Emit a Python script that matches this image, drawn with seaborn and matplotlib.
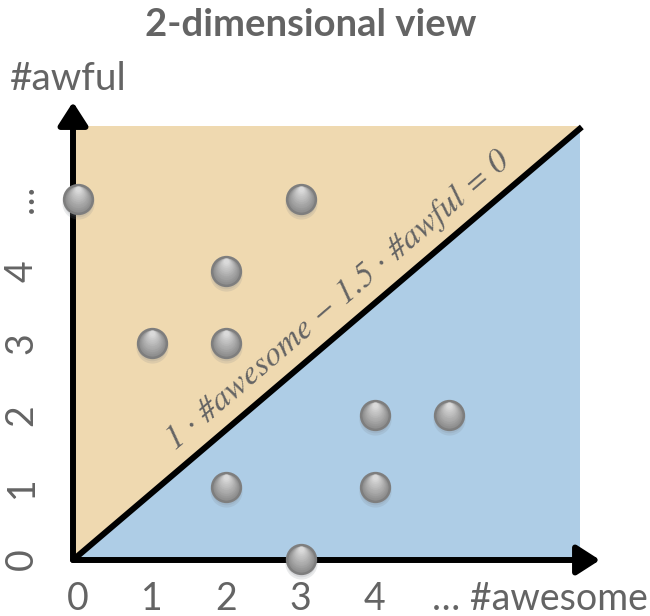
import numpy as np
import pandas as pd
import matplotlib
matplotlib.use("Agg")
import matplotlib.pyplot as plt
import matplotlib.transforms as mtrans
import seaborn as sns

# ---- data ----
awesome = [0, 3, 2, 1, 2, 4, 5, 2, 4, 3]
awful = [5, 5, 4, 3, 3, 2, 2, 1, 1, 0]
xtick_vals = [0, 1, 2, 3, 4]
xtick_labels = ["0", "1", "2", "3", "4"]
ytick_vals = [0, 1, 2, 3, 4, 5]
ytick_labels = ["0", "1", "2", "3", "4", "…"]
x_axis_label = "… #awesome"
y_axis_label = "#awful"
title = "2-dimensional view"
boundary_label = "1 · #awesome − 1.5 · #awful = 0"

df = pd.DataFrame({"awesome": awesome, "awful": awful})

sns.set_theme(style="white")
plt.rcParams["font.family"] = ["Lato", "DejaVu Sans"]

TXT = "#646464"
fig = plt.figure(figsize=(6.5, 6.16), dpi=100)
ax = fig.add_axes([73 / 650, 56 / 616, 527 / 650, 458 / 616])
x0, x1 = -0.067, 7.035
y0, y1 = -0.014, 6.347
ax.set_xlim(x0, x1)
ax.set_ylim(y0, y1)
for s in ax.spines.values():
    s.set_visible(False)

# decision regions
fx1, fy1 = 6.77, 6.01
ax.fill([x0, x0, fx1], [y0, fy1, fy1], color="#efd9b0", lw=0, zorder=1)
ax.fill([x0, fx1, fx1], [y0, y0, fy1], color="#aecde6", lw=0, zorder=1)
ax.plot([x0, fx1 + 0.02], [y0, fy1 - 0.01], color="black", lw=4.3,
        solid_capstyle="butt", zorder=2)

# axis arrows
ap = dict(arrowstyle="-|>,head_length=0.7,head_width=0.45", lw=4.3,
          color="black", mutation_scale=20, shrinkA=0, shrinkB=0)
ax.annotate("", xy=(x1, y0), xytext=(x0, y0), arrowprops=ap, zorder=3,
            annotation_clip=False)
ax.annotate("", xy=(x0, y1), xytext=(x0, y0), arrowprops=ap, zorder=3,
            annotation_clip=False)

# boundary label
ax.text(3.50, 3.58, boundary_label, rotation=40.5, rotation_mode="anchor",
        ha="center", va="center", fontsize=24.5, color=TXT, zorder=4,
        family=["STIXGeneral", "DejaVu Serif"], style="italic")

# points: shadow + shaded sphere layers
def off(dx, dy):
    return mtrans.offset_copy(ax.transData, fig=fig, x=dx, y=dy, units="dots")

S = 430
R_pt = np.sqrt(S) / 2.0
sns.scatterplot(data=df, x="awesome", y="awful", ax=ax, s=S * 1.25,
                color="#7a8088", alpha=0.16, linewidth=0, legend=False,
                transform=off(0, -4), zorder=5, clip_on=False)
sns.scatterplot(data=df, x="awesome", y="awful", ax=ax, s=S * 1.05,
                color="#7a8088", alpha=0.16, linewidth=0, legend=False,
                transform=off(0, -3), zorder=5, clip_on=False)
sns.scatterplot(data=df, x="awesome", y="awful", ax=ax, s=S,
                color="#8c8c8c", edgecolor="#7e7e7e", linewidth=1.8,
                legend=False, zorder=6, clip_on=False)
n = 18
r_in = R_pt - 1.2
for i in range(n):
    t = i / (n - 1)
    g = int(0x90 + (0xda - 0x90) * t)
    col = "#{0:02x}{0:02x}{0:02x}".format(g)
    r = r_in * (1 - 0.8 * t)
    dy = (r_in - r) * 0.97 * 100 / 72
    sns.scatterplot(data=df, x="awesome", y="awful", ax=ax, s=(2 * r) ** 2,
                    color=col, linewidth=0, legend=False,
                    transform=off(0, dy), zorder=7 + i, clip_on=False)

# ticks
ax.set_xticks(xtick_vals + [6.22])
ax.set_xticklabels(xtick_labels + [x_axis_label])
ax.set_yticks(ytick_vals)
ax.set_yticklabels(ytick_labels, rotation=90, va="center")
ax.tick_params(axis="both", length=0, labelsize=27, labelcolor=TXT)
ax.tick_params(axis="x", pad=15)
ax.tick_params(axis="y", pad=24)
ax.set_xlabel("")
ax.set_ylabel("")

fig.text(311 / 650, 1 - 25 / 616, title, ha="center", va="center",
         fontsize=27.5, fontweight="bold", color=TXT)
fig.text(10 / 650, 1 - 79 / 616, y_axis_label, ha="left", va="center",
         fontsize=28, color=TXT)

fig.savefig("out.png", dpi=100)
